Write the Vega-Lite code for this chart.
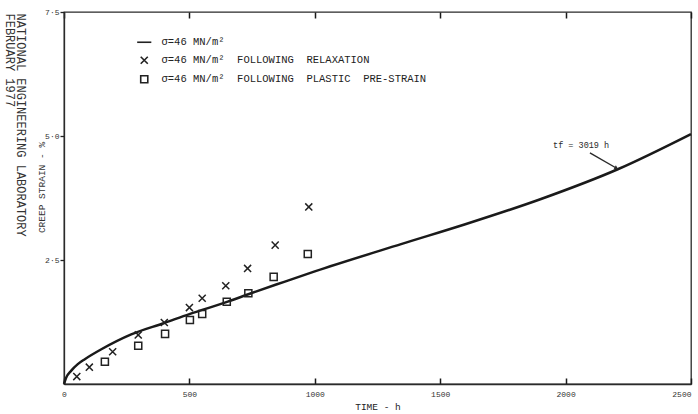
{
  "$schema": "https://vega.github.io/schema/vega-lite/v6.json",
  "width": 627,
  "height": 372,
  "autosize": {"type": "none"},
  "padding": {"left": 64, "top": 12, "right": 7, "bottom": 30},
  "background": "white",
  "config": {
    "view": {"stroke": "#2a2a2a", "strokeWidth": 1.3},
    "font": "Liberation Mono",
    "text": {"font": "Liberation Mono", "color": "#2a2a2a"}
  },
  "datasets": {
    "curve": [
      {"t": 0, "strain": 0},
      {"t": 8, "strain": 0.12},
      {"t": 29, "strain": 0.27},
      {"t": 55, "strain": 0.4},
      {"t": 83, "strain": 0.5},
      {"t": 149, "strain": 0.7},
      {"t": 268, "strain": 1.0},
      {"t": 400, "strain": 1.23},
      {"t": 500, "strain": 1.41},
      {"t": 653, "strain": 1.66},
      {"t": 746, "strain": 1.83},
      {"t": 878, "strain": 2.06},
      {"t": 1000, "strain": 2.27},
      {"t": 1344, "strain": 2.82},
      {"t": 1600, "strain": 3.22},
      {"t": 1902, "strain": 3.73},
      {"t": 2208, "strain": 4.33},
      {"t": 2500, "strain": 5.04}
    ],
    "pts": [
      {"t": 51, "strain": 0.15, "series": "relax"},
      {"t": 101, "strain": 0.34, "series": "relax"},
      {"t": 194, "strain": 0.65, "series": "relax"},
      {"t": 296, "strain": 0.99, "series": "relax"},
      {"t": 400, "strain": 1.24, "series": "relax"},
      {"t": 500, "strain": 1.54, "series": "relax"},
      {"t": 551, "strain": 1.73, "series": "relax"},
      {"t": 645, "strain": 1.98, "series": "relax"},
      {"t": 732, "strain": 2.33, "series": "relax"},
      {"t": 842, "strain": 2.8, "series": "relax"},
      {"t": 976, "strain": 3.57, "series": "relax"},
      {"t": 163, "strain": 0.45, "series": "pre"},
      {"t": 296, "strain": 0.77, "series": "pre"},
      {"t": 403, "strain": 1.01, "series": "pre"},
      {"t": 502, "strain": 1.29, "series": "pre"},
      {"t": 551, "strain": 1.41, "series": "pre"},
      {"t": 649, "strain": 1.66, "series": "pre"},
      {"t": 735, "strain": 1.83, "series": "pre"},
      {"t": 836, "strain": 2.16, "series": "pre"},
      {"t": 972, "strain": 2.62, "series": "pre"}
    ]
  },
  "layer": [
    {
      "data": {"name": "curve"},
      "mark": {"type": "line", "interpolate": "monotone", "color": "#1a1a1a", "strokeWidth": 2.5},
      "encoding": {
        "x": {
          "field": "t", "type": "quantitative",
          "scale": {"domain": [0, 2500], "nice": false, "zero": false},
          "axis": {
            "orient": "bottom", "values": [0, 500, 1000, 1500, 2000, 2500], "format": "d",
            "title": "TIME - h", "ticks": false, "labelPadding": 6,
            "grid": true, "gridDash": [6, 360, 6, 0], "gridColor": "#1a1a1a", "gridWidth": 1.5, "gridOpacity": 1,
            "labelFont": "Liberation Mono", "labelFontSize": 8, "labelColor": "#333", "labelFlush": false,
            "labelAlign": {"condition": {"test": "datum.value == 2500", "value": "right"}, "value": "center"},
            "labelDx": {"condition": {"test": "datum.value == 2500", "value": 6}, "value": 0},
            "titleFont": "Liberation Mono", "titleFontSize": 9.5, "titleFontWeight": "normal", "titleColor": "#222", "titlePadding": 3,
            "domainColor": "#2a2a2a", "domainWidth": 1.3
          }
        },
        "y": {
          "field": "strain", "type": "quantitative",
          "scale": {"domain": [0, 7.5], "nice": false},
          "axis": {
            "values": [2.5, 5, 7.5],
            "labelExpr": "replace(format(datum.value,'.1f'),'.','·')",
            "title": "CREEP STRAIN - %", "grid": false, "tickSize": 4, "labelPadding": 1,
            "labelFont": "Liberation Mono", "labelFontSize": 8, "labelColor": "#333",
            "titleFont": "Liberation Mono", "titleFontSize": 9.5, "titleFontWeight": "normal", "titleColor": "#333",
            "titleX": -23, "titleY": 175, "titleBaseline": "middle",
            "domainColor": "#2a2a2a", "domainWidth": 1.3, "tickColor": "#222", "tickWidth": 1.3
          }
        }
      }
    },
    {
      "data": {"name": "pts"},
      "mark": {"type": "point", "filled": false, "color": "#222", "strokeWidth": 1.5, "size": 50, "opacity": 1},
      "encoding": {
        "x": {"field": "t", "type": "quantitative", "scale": {"domain": [0, 2500], "nice": false, "zero": false}},
        "y": {"field": "strain", "type": "quantitative", "scale": {"domain": [0, 7.5], "nice": false}},
        "shape": {
          "field": "series", "type": "nominal",
          "scale": {"domain": ["line", "relax", "pre"], "range": ["M-2,0L2,0", "M-1,-1L1,1M-1,1L1,-1", "square"]},
          "legend": {
            "orient": "none", "legendX": 75, "legendY": 25, "title": null,
            "symbolStrokeColor": "#222", "symbolFillColor": "transparent", "symbolStrokeWidth": 1.6, "symbolSize": 50,
            "labelFont": "Liberation Mono", "labelFontSize": 10.5, "labelColor": "#222", "labelOffset": 12, "rowPadding": 5, "labelLimit": 0,
            "labelExpr": "datum.label == 'line' ? 'σ=46 MN/m²' : datum.label == 'relax' ? 'σ=46 MN/m²\u00a0\u00a0FOLLOWING\u00a0\u00a0RELAXATION' : 'σ=46 MN/m²\u00a0\u00a0FOLLOWING\u00a0\u00a0PLASTIC\u00a0\u00a0PRE-STRAIN'"
          }
        }
      }
    },
    {
      "data": {"values": [{}]},
      "mark": {"type": "text", "text": "tf = 3019 h", "align": "left", "baseline": "middle", "fontSize": 8.5, "color": "#2a2a2a"},
      "encoding": {
        "x": {"datum": 1950, "type": "quantitative", "scale": {"domain": [0, 2500], "nice": false, "zero": false}},
        "y": {"datum": 4.82, "type": "quantitative"}
      }
    },
    {
      "data": {"values": [{}]},
      "mark": {"type": "rule", "color": "#2a2a2a", "strokeWidth": 1.4},
      "encoding": {
        "x": {"datum": 2097, "type": "quantitative", "scale": {"domain": [0, 2500], "nice": false, "zero": false}},
        "y": {"datum": 4.66, "type": "quantitative"},
        "x2": {"datum": 2200},
        "y2": {"datum": 4.36}
      }
    },
    {
      "data": {"values": [{}]},
      "mark": {"type": "point", "shape": "triangle-right", "filled": true, "color": "#2a2a2a", "size": 22, "angle": 29, "opacity": 1},
      "encoding": {
        "x": {"datum": 2203, "type": "quantitative", "scale": {"domain": [0, 2500], "nice": false, "zero": false}},
        "y": {"datum": 4.35, "type": "quantitative"}
      }
    },
    {
      "data": {"values": [{}]},
      "mark": {"type": "text", "text": ["NATIONAL ENGINEERING LABORATORY", "FEBRUARY 1977"], "angle": 90, "align": "left", "baseline": "top", "fontSize": 12, "lineHeight": 11, "color": "#333"},
      "encoding": {
        "x": {"datum": -151, "type": "quantitative", "scale": {"domain": [0, 2500], "nice": false, "zero": false}},
        "y": {"datum": 7.47, "type": "quantitative"}
      }
    }
  ]
}
